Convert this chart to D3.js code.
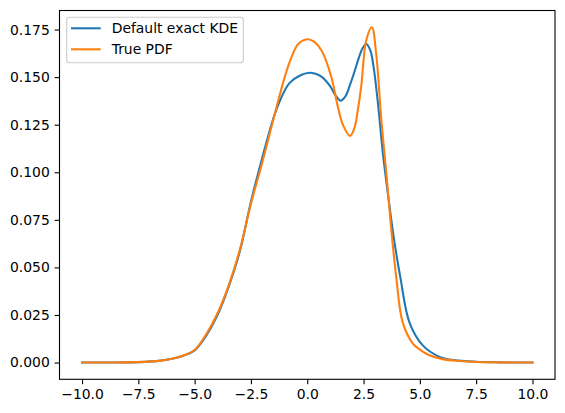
<!DOCTYPE html>
<html>
<head>
<meta charset="utf-8">
<script src="https://cdn.jsdelivr.net/npm/d3@7"></script>
<style>
  body { margin: 0; background: #fff; }
  svg { display: block; font-family: "DejaVu Sans", sans-serif; }
</style>
</head>
<body>
<svg id="chart"></svg>
<script>
const width = 565;
const height = 413;

// values
const kdeX = [-10, -8.5, -7.5, -6.5, -6, -5.5, -5, -4.5, -4, -3.5, -3, -2.5, -2, -1.5, -1.2, -0.8, -0.3, 0.15, 0.6, 1.0, 1.25, 1.48, 1.7, 1.9, 2.1, 2.3, 2.45, 2.62, 2.8, 2.95, 3.14, 3.36, 3.58, 3.85, 4.13, 4.54, 5.13, 5.87, 6.5, 7.5, 8.5, 10];
const kdeY = [0, 0.00005, 0.0002, 0.0010, 0.0020, 0.0036, 0.0064, 0.0138, 0.0245, 0.0395, 0.0582, 0.0845, 0.1075, 0.1285, 0.1380, 0.1467, 0.1510, 0.1523, 0.1505, 0.1455, 0.1405, 0.1376, 0.1400, 0.1460, 0.1530, 0.1605, 0.1650, 0.1674, 0.1640, 0.1550, 0.1360, 0.1098, 0.0888, 0.0650, 0.0450, 0.0210, 0.0090, 0.0030, 0.0013, 0.0004, 0.0001, 0];

const pdfX = [-10, -8.5, -7.5, -6.5, -6, -5.5, -5, -4.5, -4, -3.5, -3, -2.5, -2, -1.5, -1.0, -0.7, -0.4, 0.0, 0.3, 0.63, 1.07, 1.36, 1.6, 1.9, 2.1, 2.25, 2.4, 2.62, 2.87, 3.06, 3.29, 3.5, 3.73, 3.95, 4.24, 4.69, 5.0, 5.42, 6.0, 6.75, 7.5, 8.5, 10];
const pdfY = [0, 0.00005, 0.0002, 0.0010, 0.0020, 0.0037, 0.0066, 0.0146, 0.0255, 0.0402, 0.0590, 0.0835, 0.1050, 0.1280, 0.1500, 0.1605, 0.1674, 0.1699, 0.1686, 0.1641, 0.1501, 0.1343, 0.1245, 0.1191, 0.1235, 0.1330, 0.1455, 0.1694, 0.1762, 0.1624, 0.1273, 0.1010, 0.0700, 0.0450, 0.0210, 0.0100, 0.0068, 0.0038, 0.0018, 0.0008, 0.0003, 0.0001, 0];

const xTicks = [-10, -7.5, -5, -2.5, 0, 2.5, 5, 7.5, 10];
const yTicks = [0, 0.025, 0.05, 0.075, 0.1, 0.125, 0.15, 0.175];

const seriesNames = ['Default exact KDE', 'True PDF'];
const seriesColors = ['#1f77b4', '#ff7f0e'];

const plotLeft = 59.5, plotRight = 555, plotTop = 10.5, plotBottom = 379.3;

const svg = d3.select('#chart').attr('width', width).attr('height', height);

const x = d3.scaleLinear().domain([-11, 11]).range([plotLeft, plotRight]);
const ymax = d3.max(pdfY.concat(kdeY));
const pad = ymax * 0.05;
const y = d3.scaleLinear().domain([-pad, ymax + pad]).range([plotBottom, plotTop]);

const series = [
  kdeX.map((d, i) => ({x: d, y: kdeY[i]})),
  pdfX.map((d, i) => ({x: d, y: pdfY[i]}))
];

const line = d3.line()
  .x(d => x(d.x))
  .y(d => y(d.y))
  .curve(d3.curveCatmullRom.alpha(0.5));

svg.append('g').selectAll('path').data(series)
  .enter().append('path')
  .attr('d', line)
  .attr('fill', 'none')
  .attr('stroke', (d, i) => seriesColors[i])
  .attr('stroke-width', 2.08)
  .attr('stroke-linejoin', 'round')
  .attr('stroke-linecap', 'square');

// axes
const xAxis = svg.append('g').attr('transform', `translate(0, ${plotBottom})`)
  .call(d3.axisBottom(x).tickValues(xTicks).tickFormat(d3.format('.1f')).tickSize(4.86).tickPadding(4.9));
const yAxis = svg.append('g').attr('transform', `translate(${plotLeft}, 0)`)
  .call(d3.axisLeft(y).tickValues(yTicks).tickFormat(d3.format('.3f')).tickSize(4.86).tickPadding(4.9));

[xAxis, yAxis].forEach(a => {
  a.select('.domain').remove();
  a.selectAll('line').attr('stroke', '#000').attr('stroke-width', 1.1);
  a.selectAll('text').attr('font-size', 13.9).attr('font-family', '"DejaVu Sans", sans-serif').attr('fill', '#000');
});

// frame
svg.append('rect')
  .attr('x', plotLeft).attr('y', plotTop)
  .attr('width', plotRight - plotLeft).attr('height', plotBottom - plotTop)
  .attr('fill', 'none').attr('stroke', '#000').attr('stroke-width', 1.1);

// legend
const legend = svg.append('g');
legend.append('rect')
  .attr('x', 66.7).attr('y', 17.3).attr('width', 176.6).attr('height', 45.4)
  .attr('rx', 2.8)
  .attr('fill', '#fff').attr('fill-opacity', 0.8)
  .attr('stroke', '#cccccc').attr('stroke-width', 1.1);

seriesNames.forEach((name, i) => {
  const ly = 28.3 + i * 21;
  legend.append('line')
    .attr('x1', 71).attr('x2', 100.7).attr('y1', ly).attr('y2', ly)
    .attr('stroke', seriesColors[i]).attr('stroke-width', 2.08);
  legend.append('text')
    .attr('x', 111.7).attr('y', ly)
    .attr('dy', '0.35em')
    .attr('font-size', 13.9)
    .attr('fill', '#000')
    .text(name);
});
</script>
</body>
</html>
